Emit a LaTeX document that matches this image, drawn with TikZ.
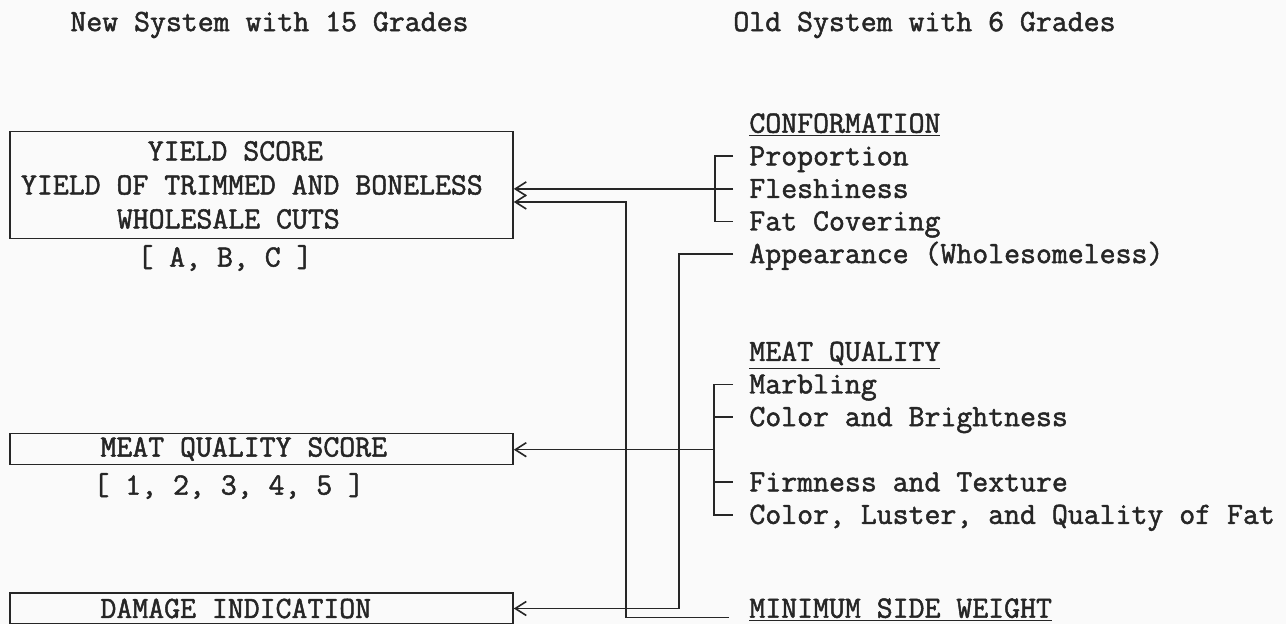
\documentclass[tikz,border=0pt]{standalone}
\usepackage{fontspec}
\usepackage{xcolor}
\usepackage{tikz}
\usetikzlibrary{matrix, arrows.meta, positioning}
\setlength{\parindent}{0pt}
\newfontfamily\typefont{Latin Modern Mono}[FakeBold=1.6]
\newcommand{\boxline}[1]{\makebox[240.5pt][l]{#1}}
\definecolor{ink}{HTML}{262626}
\definecolor{paper}{HTML}{FAFAFA}
\tikzstyle{tw}=[font=\typefont\fontsize{15.46}{17}\selectfont, text=ink, inner sep=0pt]
\tikzstyle{scorebox}=[tw, draw=ink, line width=0.8pt, minimum width=251.5pt,
align=left, inner xsep=5.5pt]
\tikzstyle{oldlist}=[matrix of nodes, inner sep=0pt, nodes in empty cells, anchor=north west,
nodes={tw, anchor=west, minimum height=16.3pt, text height=10.5pt, text depth=1.5pt}]
\tikzstyle{brk}=[draw=ink, line width=0.8pt]
\tikzstyle{feed}=[brk, -{Straight Barb[length=5.5pt,width=7pt]}]

\begin{document}
\begin{tikzpicture}[x=0.5pt, y=-0.5pt]
\useasboundingbox (0,0) rectangle (1286,624);
\clip (0,0) rectangle (1286,624);
\fill[paper] (0,0) rectangle (1286,624);

\node[tw, anchor=west] (newsys) at (70,25) {New System with 15 Grades};
\node[tw, anchor=west] (oldsys) at (733,25) {Old System with 6 Grades};

\node[scorebox, minimum height=53.5pt] (yld) at (261.5,185) {\boxline{\hspace*{4.1em}YIELD SCORE}\\
  \boxline{YIELD OF TRIMMED AND BONELESS}\\\boxline{\hspace*{3.1em}WHOLESALE CUTS}};
\node[tw, anchor=west] (abc) at (137,258) {[ A, B, C ]};
\node[scorebox, minimum height=15.5pt] (qual) at (261.5,449) {\boxline{\hspace*{2.57em}MEAT QUALITY SCORE}};
\node[tw, anchor=west] (nums) at (93,486) {[ 1, 2, 3, 4, 5 ]};
\node[scorebox, minimum height=15.5pt] (dmg) at (261.5,608.5) {\boxline{\hspace*{2.57em}DAMAGE INDICATION}};

\matrix[oldlist] (m) at (749,107) {
  \underline{CONFORMATION} \\
  Proportion \\
  Fleshiness \\
  Fat Covering \\
  Appearance (Wholesomeless) \\
  \\
  \\
  \underline{MEAT QUALITY} \\
  Marbling \\
  Color and Brightness \\
  \\
  Firmness and Texture \\
  Color, Luster, and Quality of Fat \\
  \\
  \\[-2pt]
  \underline{MINIMUM SIDE WEIGHT} \\
};

\coordinate (trunkA) at ([xshift=-61.5pt]m-16-1.west);
\coordinate (trunkB) at ([xshift=-35pt]m-5-1.west);
\coordinate (yldin) at ([yshift=-8.5pt]yld.east);

\draw[brk] ([xshift=-8pt]m-2-1.west) -| ([xshift=-17pt]m-4-1.west) -- ([xshift=-8pt]m-4-1.west);
\draw[feed] ([xshift=-8pt]m-3-1.west) -- (yld.east |- m-3-1.west);

\draw[brk] ([xshift=-8pt]m-9-1.west) -| ([xshift=-17.5pt]m-13-1.west) -- ([xshift=-8pt]m-13-1.west);
\draw[brk] ([xshift=-17.5pt]m-10-1.west) -- ([xshift=-8pt]m-10-1.west);
\draw[brk] ([xshift=-17.5pt]m-12-1.west) -- ([xshift=-8pt]m-12-1.west);
\draw[feed] ([xshift=-17.5pt]m-11-1.west) -- (qual.east |- m-11-1.west);

\draw[feed] ([xshift=-8pt]m-5-1.west) -| (trunkB |- dmg.east) -- (dmg.east);
\draw[feed] ([xshift=-10pt,yshift=-4.5pt]m-16-1.west) -| (trunkA |- yldin) -- (yldin);
\end{tikzpicture}
\end{document}
